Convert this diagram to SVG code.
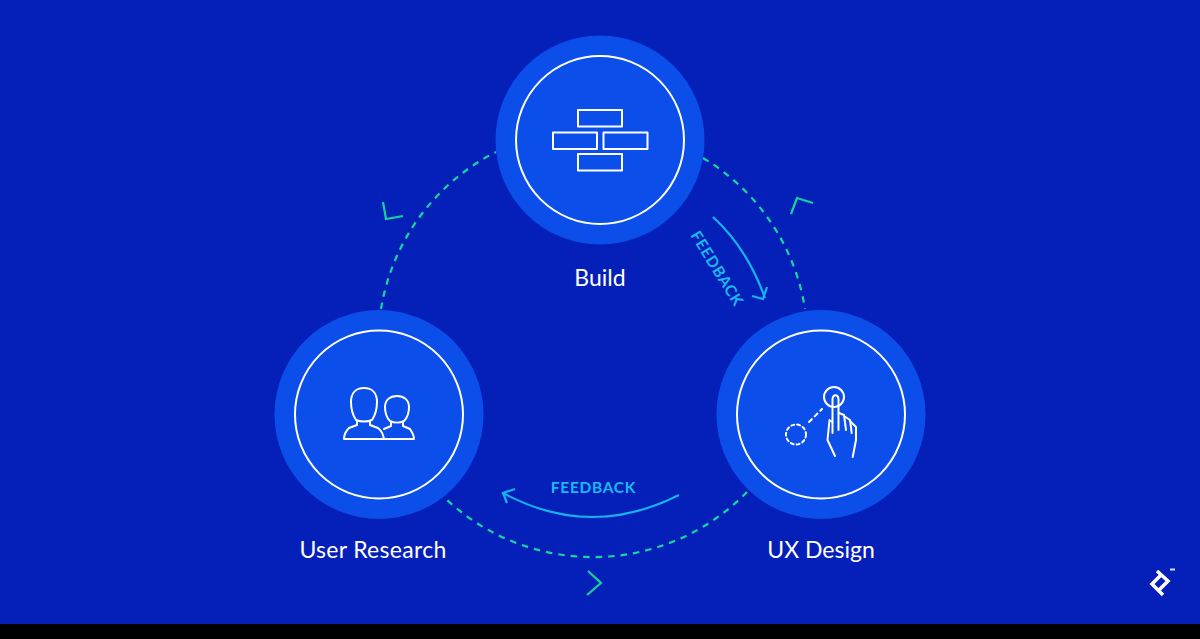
<svg xmlns="http://www.w3.org/2000/svg" width="1200" height="639" viewBox="0 0 1200 639">
<style>
.outer{fill:#0c4eea}
.ring{fill:none;stroke:#fff;stroke-width:2}
.icon{fill:none;stroke:#fff;stroke-width:2;stroke-linejoin:round;stroke-linecap:round}
.dash{fill:none;stroke:#13d8a0;stroke-width:2.200;stroke-dasharray:6.500 6}
.chev{fill:none;stroke:#10d49c;stroke-width:2.200}
.fb{fill:none;stroke:#14b4f2;stroke-width:2.200}
.lab{font-family:"Lato","Open Sans",sans-serif;font-size:23px;fill:#fff;text-anchor:middle}
.fbt{font-family:"Lato","Open Sans",sans-serif;font-size:15.500px;font-weight:700;fill:#18baf5;text-anchor:middle;letter-spacing:.7px}
</style>
<rect width="1200" height="624" fill="#0520b9"/>
<rect y="624" width="1200" height="15" fill="#000"/>
<g id="connectors">
<path class="dash" d="M703 158A215 215 0 0 1 805 309"/>
<path class="dash" d="M747 492A215 215 0 0 1 447 500"/>
<path class="dash" d="M381 309A215 215 0 0 1 496 152"/>
<path class="chev" d="M791 214L797 198L813 203"/>
<path class="chev" d="M588 571L601 583L587 595"/>
<path class="chev" d="M383 202L386 219L403 216"/>
<path class="fb" d="M713 217Q747 248 765 298"/>
<path class="fb" d="M752 296L763 299L767 287"/>
<path class="fb" d="M679 495Q590 540 503 493"/>
<path class="fb" d="M515 489L503 493L507 503"/>
<text class="fbt" transform="translate(712.500 271.500) rotate(58)">FEEDBACK</text>
<text class="fbt" x="593.500" y="492.500">FEEDBACK</text>
</g>
<g id="build">
<circle class="outer" cx="600" cy="140" r="104.500"/>
<circle class="ring" cx="600" cy="140" r="84"/>
<g class="icon">
<rect x="578" y="110" width="44" height="16.500"/>
<rect x="553" y="132.500" width="44" height="16.500"/>
<rect x="603.500" y="132.500" width="44" height="16.500"/>
<rect x="578" y="154" width="44" height="16.500"/>
</g>
<text class="lab" x="600" y="286">Build</text>
</g>
<g id="ux-design">
<circle class="outer" cx="821" cy="414.500" r="104.500"/>
<circle class="ring" cx="821" cy="414.500" r="84"/>
<g class="icon">
<circle cx="834" cy="397" r="10"/>
<circle cx="796" cy="434.500" r="10" stroke-dasharray="3 3"/>
<path d="M809 422L822 409" stroke-dasharray="4 4"/>
<path d="M832.500 433V399C833 394 838 394 838.500 399V430"/>
<path d="M832.500 422L829.500 420L827.500 440L835 456"/>
<path d="M839 413L844 415L846 430"/>
<path d="M844 416L850 420L851.700 433"/>
<path d="M850 421L856 427V440L852.700 457"/>
</g>
<text class="lab" x="821" y="558">UX Design</text>
</g>
<g id="user-research">
<circle class="outer" cx="379" cy="414.500" r="104.500"/>
<circle class="ring" cx="379" cy="414.500" r="84"/>
<g class="icon">
<path d="M356 420C352 414 351 407 351 402C351 393 356 388 364 388C372 388 377 393 377 402C377 407 376 414 372 420C368 422 360 422 356 420Z"/>
<path d="M357 421L357 425L349 428C346 431 344 434 344 439L384 439C383 434 381 430 378 428L370 425L370 421"/>
<path d="M390 421C386 417 385 411 385 407C385 400 390 396 397 396C404 396 409 400 409 407C409 411 408 417 404 421C400 423 394 423 390 421Z"/>
<path d="M391 422L391 426L384 429M403 422L403 426L410 429C412 432 414 435 414 439L384 439"/>
</g>
<text class="lab" x="373" y="558" style="letter-spacing:.3px">User Research</text>
</g>
<g id="logo">
<path d="M1157 571L1168 581L1158 591" fill="none" stroke="#fff" stroke-width="3.500"/>
<path d="M1161 575L1152 584L1163 595" fill="none" stroke="#fff" stroke-width="3.500"/>
<path d="M1170 569.500H1175" stroke="#cfe0ff" stroke-width="2"/>
</g>
</svg>
